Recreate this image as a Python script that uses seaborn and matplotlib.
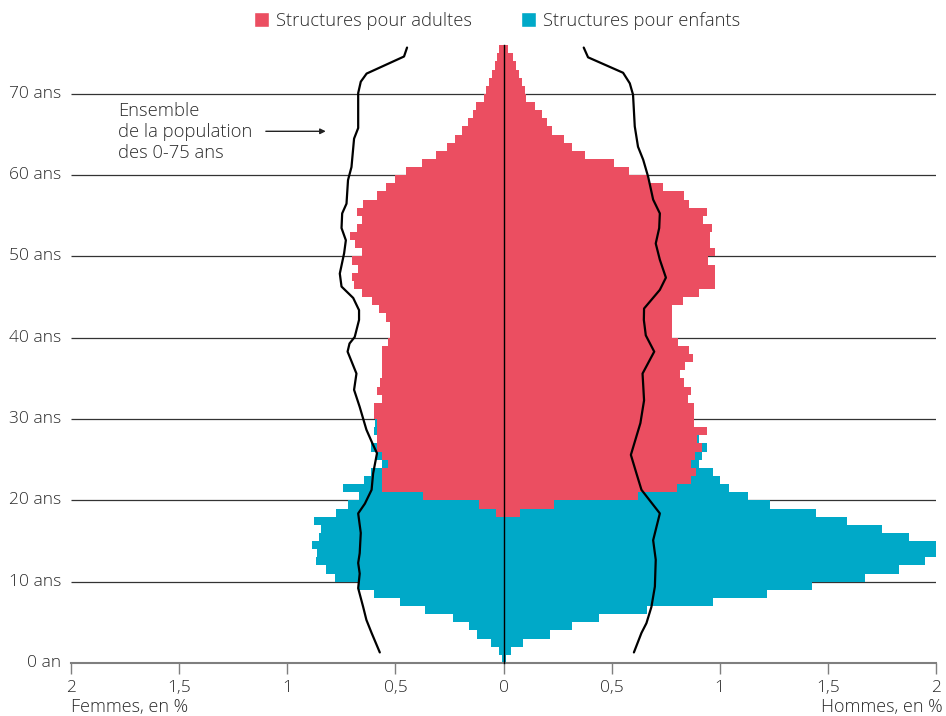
import numpy as np
import pandas as pd
import matplotlib
matplotlib.use("Agg")
import matplotlib.pyplot as plt
import seaborn as sns
from matplotlib.patches import Patch

# ---------------- data (per single year of age, % of population) ----------------
ages = list(range(76))

femmes_adultes = [0, 0, 0, 0, 0, 0, 0, 0, 0, 0,
                  0, 0, 0, 0, 0, 0, 0, 0, 0.036, 0.114,
                  0.370, 0.564, 0.560, 0.560, 0.536, 0.564, 0.584, 0.584, 0.586, 0.584,
                  0.597, 0.597, 0.564, 0.584, 0.572, 0.564, 0.564, 0.560, 0.564, 0.534,
                  0.526, 0.526, 0.544, 0.575, 0.606, 0.655, 0.692, 0.701, 0.671, 0.701,
                  0.655, 0.686, 0.711, 0.677, 0.655, 0.677, 0.649, 0.583, 0.543, 0.501,
                  0.449, 0.376, 0.313, 0.259, 0.226, 0.194, 0.163, 0.140, 0.125, 0.091,
                  0.079, 0.066, 0.051, 0.038, 0.030, 0.020]

femmes_enfants = [0.009, 0.020, 0.060, 0.122, 0.160, 0.233, 0.361, 0.480, 0.600, 0.672,
                  0.780, 0.823, 0.868, 0.863, 0.884, 0.852, 0.846, 0.874, 0.737, 0.603,
                  0.299, 0.177, 0.086, 0.055, 0.028, 0.026, 0.031, 0.002, 0.012, 0.009,
                  0, 0, 0, 0, 0, 0, 0, 0, 0, 0,
                  0, 0, 0, 0, 0, 0, 0, 0, 0, 0,
                  0, 0, 0, 0, 0, 0, 0, 0, 0, 0,
                  0, 0, 0, 0, 0, 0, 0, 0, 0, 0,
                  0, 0, 0, 0, 0, 0]

hommes_adultes = [0, 0, 0, 0, 0, 0, 0, 0, 0, 0,
                  0, 0, 0, 0, 0, 0, 0, 0, 0.074, 0.232,
                  0.623, 0.803, 0.865, 0.889, 0.869, 0.885, 0.920, 0.895, 0.939, 0.882,
                  0.883, 0.883, 0.855, 0.867, 0.836, 0.816, 0.837, 0.876, 0.859, 0.805,
                  0.781, 0.781, 0.781, 0.781, 0.828, 0.905, 0.977, 0.977, 0.977, 0.946,
                  0.977, 0.954, 0.954, 0.962, 0.923, 0.939, 0.858, 0.835, 0.738, 0.675,
                  0.581, 0.510, 0.376, 0.319, 0.280, 0.226, 0.202, 0.179, 0.145, 0.106,
                  0.099, 0.085, 0.070, 0.057, 0.042, 0.020]

hommes_enfants = [0.010, 0.035, 0.090, 0.217, 0.315, 0.441, 0.664, 0.971, 1.219, 1.426,
                  1.672, 1.830, 1.949, 2.010, 2.004, 1.876, 1.749, 1.590, 1.373, 1.001,
                  0.508, 0.241, 0.135, 0.081, 0.036, 0.031, 0.019, 0.007, 0, 0,
                  0, 0, 0, 0, 0, 0, 0, 0, 0, 0,
                  0, 0, 0, 0, 0, 0, 0, 0, 0, 0,
                  0, 0, 0, 0, 0, 0, 0, 0, 0, 0,
                  0, 0, 0, 0, 0, 0, 0, 0, 0, 0,
                  0, 0, 0, 0, 0, 0]

# Ensemble de la population des 0-75 ans (outline curves)
pop_age_f = [1.3, 3.7, 5.3, 6.9, 9.2, 11.0, 12.3, 13.5, 16.0, 18.4, 19.6, 21.3, 23.3,
             25.8, 27.0, 28.7, 31.5, 33.6, 35.6, 38.3, 39.3, 40.1, 42.2, 43.4, 44.9,
             46.3, 47.9, 50.4, 52.0, 53.5, 55.3, 56.5, 59.4, 61.0, 64.5, 65.8, 70.1,
             71.5, 72.5, 74.6, 75.7]
pop_val_f = [0.572, 0.610, 0.634, 0.649, 0.672, 0.665, 0.672, 0.665, 0.660, 0.672, 0.641,
             0.610, 0.603, 0.585, 0.606, 0.634, 0.665, 0.691, 0.680, 0.721, 0.712, 0.688,
             0.668, 0.668, 0.695, 0.749, 0.757, 0.737, 0.729, 0.749, 0.746, 0.726, 0.719,
             0.703, 0.691, 0.672, 0.672, 0.660, 0.633, 0.460, 0.446]

pop_age_h = [1.3, 3.7, 4.9, 6.9, 9.4, 12.7, 15.1, 18.4, 21.3, 23.3, 25.6, 29.5, 32.3,
             35.6, 38.3, 40.3, 42.2, 43.6, 45.9, 47.4, 49.6, 51.6, 53.5, 55.3, 57.0,
             59.8, 61.9, 63.5, 66.0, 69.9, 71.3, 72.6, 74.5, 75.7]
pop_val_h = [0.603, 0.638, 0.661, 0.684, 0.700, 0.704, 0.692, 0.723, 0.638, 0.615, 0.589,
             0.633, 0.650, 0.643, 0.697, 0.658, 0.649, 0.650, 0.723, 0.751, 0.723, 0.704,
             0.720, 0.723, 0.692, 0.669, 0.646, 0.622, 0.607, 0.599, 0.584, 0.553, 0.391,
             0.371]

x_ticks = [-2, -1.5, -1, -0.5, 0, 0.5, 1, 1.5, 2]
x_tick_labels = ["2", "1,5", "1", "0,5", "0", "0,5", "1", "1,5", "2"]
y_ticks = [0, 10, 20, 30, 40, 50, 60, 70]
y_tick_labels = ["0 an", "10 ans", "20 ans", "30 ans", "40 ans", "50 ans", "60 ans", "70 ans"]
legend_labels = ["Structures pour adultes", "Structures pour enfants"]
annotation_text = "Ensemble\nde la population\ndes 0-75 ans"
x_label_left = "Femmes, en %"
x_label_right = "Hommes, en %"

# ---------------- style ----------------
sns.set_theme(style="white")
plt.rcParams["font.family"] = ["Open Sans", "DejaVu Sans"]
plt.rcParams["font.weight"] = "light"
TXT = "#2b2b2b"
RED = "#EB4E61"
BLUE = "#00A9C8"
FS = 12.5

fig = plt.figure(figsize=(9.46, 7.16), dpi=100)
ax = fig.add_axes([71 / 946, 53 / 716, 865 / 946, 78 * 8.13 / 716])

fa = np.array(femmes_adultes)
fe = np.array(femmes_enfants)
ha = np.array(hommes_adultes)
he = np.array(hommes_enfants)
df = pd.DataFrame({
    "age": np.array(ages) + 0.5,
    "f_total": -(fa + fe),
    "f_adult": -fa,
    "h_total": ha + he,
    "h_adult": ha,
})

# gridlines behind the bars
ax.hlines(y_ticks[1:], -2, 2, color="#333333", lw=0.9, zorder=1)

for col, color in [("f_total", BLUE), ("h_total", BLUE), ("f_adult", RED), ("h_adult", RED)]:
    sns.barplot(data=df, x=col, y="age", orient="y", native_scale=True, width=1.0,
                color=color, saturation=1, errorbar=None, linewidth=0,
                ax=ax, zorder=2)

sns.lineplot(x=-np.array(pop_val_f), y=pop_age_f, orient="y", sort=True, estimator=None,
             color="black", lw=1.6, ax=ax, zorder=4)
sns.lineplot(x=np.array(pop_val_h), y=pop_age_h, orient="y", sort=True, estimator=None,
             color="black", lw=1.6, ax=ax, zorder=4)

ax.set_xlim(-2, 2)
ax.set_ylim(0, 78)
ax.set_xlabel("")
ax.set_ylabel("")

for s in ["top", "right"]:
    ax.spines[s].set_visible(False)
ax.spines["left"].set_position(("data", 0))
ax.spines["left"].set_bounds(0, 76)
ax.spines["left"].set_color("black")
ax.spines["left"].set_linewidth(1.0)
ax.spines["left"].set_zorder(3)
ax.spines["bottom"].set_color("#7f7f7f")
ax.spines["bottom"].set_linewidth(1.5)

ax.set_yticks(y_ticks[1:])
ax.tick_params(axis="y", left=True, direction="out", length=4, width=1,
               color="#222222", labelleft=False)
ax.set_xticks(x_ticks)
ax.set_xticklabels(x_tick_labels)
ax.tick_params(axis="x", bottom=True, direction="out", length=8, width=1,
               color="#7f7f7f", labelsize=12.5, pad=4, labelcolor=TXT)

for t, lab in zip(y_ticks, y_tick_labels):
    ax.text(-0.011, t, lab, transform=ax.get_yaxis_transform(), ha="right",
            va="center", fontsize=FS, color=TXT)

# annotation
ax.text(-1.784, 65.3, annotation_text, ha="left", va="center", fontsize=13.2,
        color=TXT, linespacing=1.2)
ax.annotate("", xy=(-0.822, 65.4), xytext=(-1.099, 65.4),
            arrowprops=dict(arrowstyle="-|>", lw=1.0, color="#222222",
                            mutation_scale=8, shrinkA=0, shrinkB=0))

fig.text(71 / 946, 1 - 707 / 716, x_label_left, ha="left", va="center",
         fontsize=13, color=TXT)
fig.text(943 / 946, 1 - 707 / 716, x_label_right, ha="right", va="center",
         fontsize=13, color=TXT)

handles = [Patch(facecolor=RED, label=legend_labels[0]),
           Patch(facecolor=BLUE, label=legend_labels[1])]
fig.legend(handles=handles, loc="center", bbox_to_anchor=(497 / 946, 1 - 21 / 716),
           ncol=2, frameon=False, fontsize=13.25, handlelength=0.82, handleheight=0.82,
           handletextpad=0.35, columnspacing=2.7, labelcolor=TXT)

fig.savefig("out.png", dpi=100)
